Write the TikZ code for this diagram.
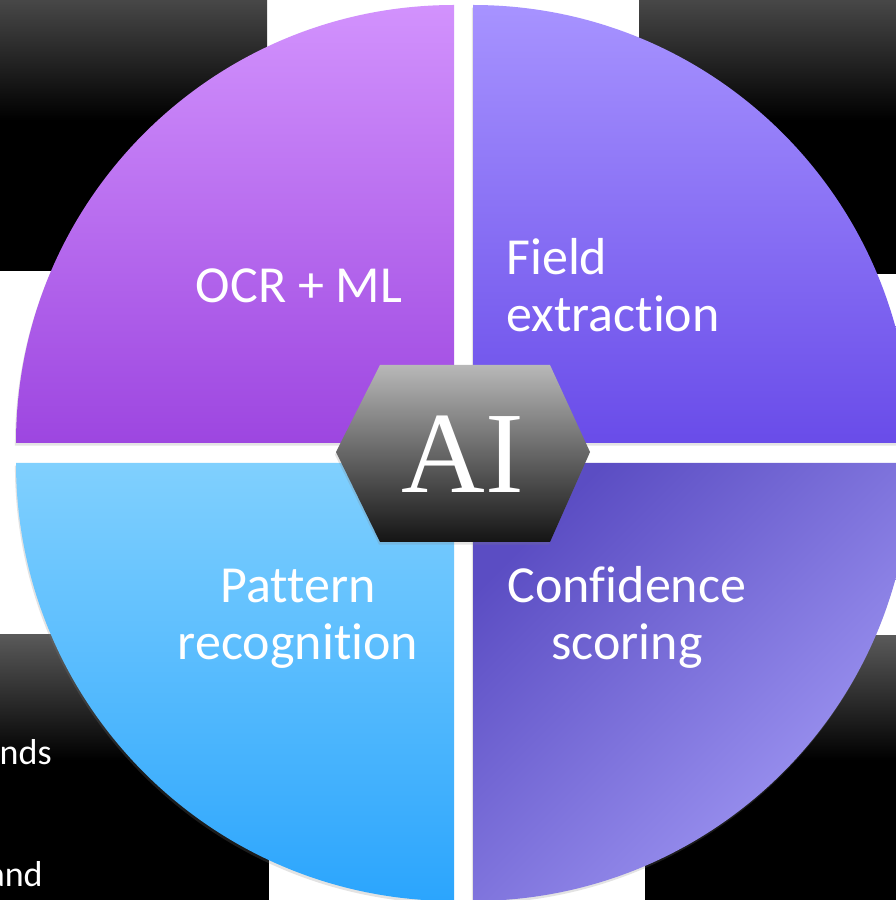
\documentclass[tikz,border=0pt]{standalone}
\usepackage{fontspec}
\setmainfont{Carlito}[Ligatures=NoCommon]
\newfontfamily\aifont{Liberation Serif}
\usepackage{tikz}
\usetikzlibrary{shadows,positioning}

\definecolor{ocrtop}{RGB}{210,146,253}
\definecolor{ocrbot}{RGB}{157,70,224}
\definecolor{fetop}{RGB}{167,147,255}
\definecolor{febot}{RGB}{105,76,233}
\definecolor{prtop}{RGB}{128,208,254}
\definecolor{prbot}{RGB}{43,165,253}
\definecolor{csdark}{RGB}{91,77,195}
\definecolor{cslight}{RGB}{163,155,246}
\definecolor{hextop}{RGB}{184,184,184}
\definecolor{hexbot}{RGB}{20,20,20}

\begin{document}
\begin{tikzpicture}[x=0.2mm,y=0.2mm,
  quad/.style={drop shadow={shadow xshift=-0.6pt,shadow yshift=-1.5pt,opacity=0.22}},
  lbl/.style={white,inner sep=0pt,align=center,font=\fontsize{29.6}{33}\selectfont},
  side/.style={white,inner sep=0pt,font=\fontsize{20.5}{24}\selectfont}]

\useasboundingbox (0,0) rectangle (896,900);
\clip (0,0) rectangle (896,900);

\fill[white] (0,0) rectangle (896,900);

\fill[black] (0,629) rectangle (267,900);
\shade[top color=black!72, bottom color=black] (0,780) rectangle (267,900);
\fill[black] (639,626) rectangle (896,900);
\shade[top color=black!72, bottom color=black] (639,780) rectangle (896,900);
\fill[black] (0,0) rectangle (269,265);
\shade[top color=black!65, bottom color=black] (0,140) rectangle (269,265);
\fill[black] (645,0) rectangle (896,264);
\shade[top color=black!65, bottom color=black] (645,140) rectangle (896,264);

\path[quad, top color=ocrtop, bottom color=ocrbot] (454,457) -- ++(-438,0) arc[start angle=180, end angle=90, radius=438] -- cycle;
\path[quad, top color=fetop, bottom color=febot] (473,457) -- ++(0,438) arc[start angle=90, end angle=0, radius=438] -- cycle;
\path[quad, top color=prtop, bottom color=prbot] (454,437) -- ++(-438,0) arc[start angle=180, end angle=270, radius=438] -- cycle;
\path[quad, top color=csdark, bottom color=cslight, shading angle=45] (473,437) -- ++(0,-438) arc[start angle=270, end angle=360, radius=438] -- cycle;

\path[quad, top color=hextop, bottom color=hexbot] (380,535) -- (550,535) -- (590,448) -- (550,358) -- (380,358) -- (336,448) -- cycle;

\node[white, inner sep=0pt, anchor=base, font=\aifont\fontsize{66}{66}\selectfont] (ai) at (463,407) {AI};

\node[lbl, anchor=base] (ocr) at (299,597) {OCR + ML};
\node[lbl, align=left, anchor=base west] (fe) at (506,568) {Field\\extraction};
\node[lbl, anchor=base] (pr) at (298,240) {Pattern\\recognition};
\node[lbl, anchor=base] (cs) at (627,240) {Confidence\\scoring};

\node[side, anchor=base east] (nds) at (52,135) {nds};
\node[side, anchor=base east] (and) at (43,13) {and};

\end{tikzpicture}
\end{document}
